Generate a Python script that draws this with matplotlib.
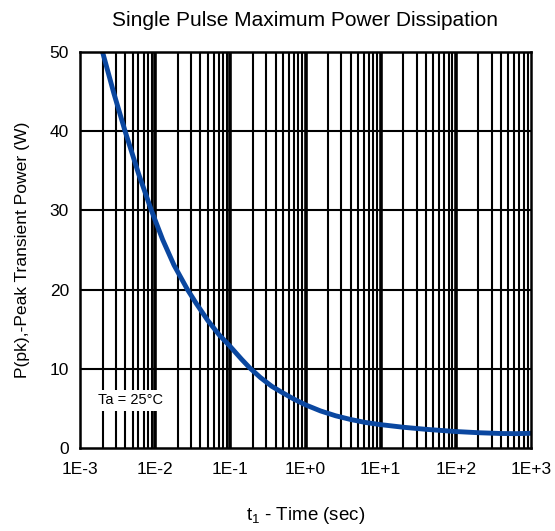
import matplotlib
matplotlib.use("Agg")
import matplotlib.pyplot as plt
import numpy as np

plt.rcParams['font.family'] = ['Liberation Sans', 'DejaVu Sans']
plt.rcParams['mathtext.fontset'] = 'custom'
plt.rcParams['mathtext.rm'] = 'Liberation Sans'

# Data (time as log10 seconds, power in W)
log_time = [-2.70, -2.55, -2.40, -2.22, -2.05, -1.90, -1.75, -1.57, -1.45, -1.30,
            -1.15, -1.00, -0.85, -0.74, -0.60, -0.45, -0.30, -0.15, 0.00, 0.20,
            0.40, 0.60, 0.80, 1.00, 1.30, 1.60, 2.00, 2.30, 2.60, 2.80, 3.00]
power_w = [50.0, 44.8, 40.0, 34.6, 30.0, 26.3, 23.1, 20.0, 18.2, 16.1,
           14.3, 12.8, 11.2, 10.1, 8.9, 7.8, 6.95, 6.15, 5.45, 4.68,
           4.07, 3.6, 3.22, 2.95, 2.62, 2.36, 2.08, 1.93, 1.83, 1.81, 1.86]
time_s = [10.0 ** v for v in log_time]

xticks = [1e-3, 1e-2, 1e-1, 1e0, 1e1, 1e2, 1e3]
xtick_labels = ["1E-3", "1E-2", "1E-1", "1E+0", "1E+1", "1E+2", "1E+3"]
yticks = [0, 10, 20, 30, 40, 50]

fig = plt.figure(figsize=(5.55, 5.31), dpi=100)
ax = fig.add_axes([80/555, 1-448/531, (531-80)/555, (448-52)/531])

ax.set_xscale('log')
ax.set_xlim(1e-3, 1e3)
ax.set_ylim(0, 50)

# vertical grid lines: minor and major
for d in range(-3, 3):
    for m in range(2, 10):
        ax.axvline(m * 10.0**d, color='black', lw=1.5, zorder=1)
for xt in xticks[1:-1]:
    ax.axvline(xt, color='black', lw=2.6, zorder=1)
for yt in yticks[1:-1]:
    ax.axhline(yt, color='black', lw=1.5, zorder=1)

ax.plot(time_s, power_w, color='#0a47a0', lw=3.5, zorder=3, solid_capstyle='round',
        solid_joinstyle='round')

ax.text(4.7e-3, 6.06, "Ta = 25°C", fontsize=10.5, ha='center', va='center', zorder=4,
        bbox=dict(facecolor='white', edgecolor='none', pad=2.5))

ax.set_xticks(xticks)
ax.set_xticklabels(xtick_labels)
ax.xaxis.set_minor_locator(matplotlib.ticker.NullLocator())
ax.set_yticks(yticks)
ax.tick_params(axis='both', length=0, labelsize=12.5)
ax.tick_params(axis='x', pad=10)
ax.tick_params(axis='y', pad=8)

for s in ax.spines.values():
    s.set_linewidth(1.8)
    s.set_color('black')
    s.set_zorder(5)

ax.set_title("Single Pulse Maximum Power Dissipation", fontsize=15, pad=19)
ax.set_ylabel("P(pk),-Peak Transient Power (W)", fontsize=12.6, labelpad=14)
ax.set_xlabel(r"$\mathregular{t_1}$ - Time (sec)", fontsize=13.5, labelpad=20)

fig.savefig("out.png", dpi=100)
